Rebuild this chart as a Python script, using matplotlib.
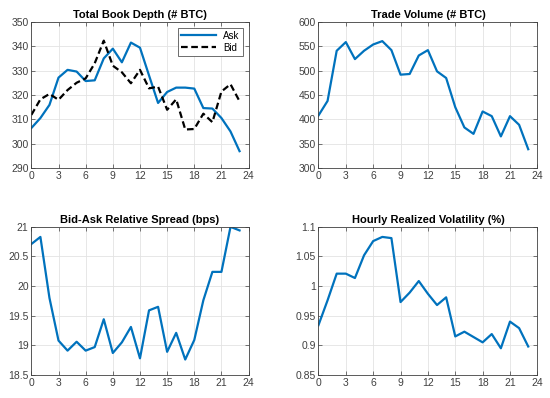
import matplotlib.pyplot as plt

hours = list(range(24))

ask_depth = [306.4, 310.5, 315.9, 327.1, 330.3, 329.6, 325.7, 326.0, 335.0, 339.0,
             333.4, 341.5, 339.4, 328.0, 316.7, 321.2, 323.0, 323.0, 322.6, 314.6,
             314.4, 310.5, 305.0, 296.9]
bid_depth = [311.8, 318.2, 320.4, 318.0, 322.0, 325.0, 326.8, 333.0, 342.3, 332.0,
             329.3, 324.8, 330.3, 322.7, 323.4, 313.9, 318.2, 305.8, 306.0, 312.3,
             308.8, 321.4, 324.4, 317.4]
volume = [407.7, 437.7, 540.7, 558.5, 523.6, 540.7, 553.6, 560.5, 542.0, 491.6,
          493.0, 531.0, 542.0, 498.4, 484.8, 424.8, 383.2, 370.0, 416.0, 406.4,
          364.8, 406.4, 388.6, 338.5]
spread = [20.71, 20.83, 19.80, 19.08, 18.91, 19.06, 18.91, 18.97, 19.44, 18.87,
          19.05, 19.31, 18.78, 19.59, 19.65, 18.89, 19.21, 18.76, 19.09, 19.76,
          20.24, 20.24, 21.00, 20.94]
volatility = [0.934, 0.976, 1.021, 1.021, 1.0136, 1.052, 1.076, 1.083, 1.081, 0.973,
              0.989, 1.0085, 0.987, 0.968, 0.981, 0.915, 0.923, 0.914, 0.905, 0.919,
              0.895, 0.940, 0.929, 0.898]

titles = ['Total Book Depth (# BTC)', 'Trade Volume (# BTC)',
          'Bid-Ask Relative Spread (bps)', 'Hourly Realized Volatility (%)']

plt.rcParams['font.family'] = ['Liberation Sans', 'DejaVu Sans']
blue = '#0072BD'

fig = plt.figure(figsize=(5.5, 3.98), dpi=100)
ax1 = fig.add_axes([0.057, 0.578, 0.395, 0.367])
ax2 = fig.add_axes([0.579, 0.578, 0.398, 0.367])
ax3 = fig.add_axes([0.057, 0.058, 0.395, 0.372])
ax4 = fig.add_axes([0.579, 0.058, 0.398, 0.372])

ax1.plot(hours, ask_depth, color=blue, lw=1.6, label='Ask')
ax1.plot(hours, bid_depth, color='black', lw=1.6, ls=(0, (3, 1.6)), label='Bid')
ax1.set_ylim(290, 350)
ax1.set_yticks(range(290, 351, 10))
leg = ax1.legend(loc='upper right', fontsize=7, fancybox=False, framealpha=1,
                 borderpad=0.3, handlelength=3.6, labelspacing=0.2,
                 borderaxespad=0.6)
leg.get_frame().set_edgecolor('#555555')
leg.get_frame().set_linewidth(0.6)

ax2.plot(hours, volume, color=blue, lw=1.6)
ax2.set_ylim(300, 600)
ax2.set_yticks(range(300, 601, 50))

ax3.plot(hours, spread, color=blue, lw=1.6)
ax3.set_ylim(18.5, 21)
ax3.set_yticks([18.5, 19, 19.5, 20, 20.5, 21])
ax3.set_yticklabels(['18.5', '19', '19.5', '20', '20.5', '21'])

ax4.plot(hours, volatility, color=blue, lw=1.6)
ax4.set_ylim(0.85, 1.1)
ax4.set_yticks([0.85, 0.9, 0.95, 1.0, 1.05, 1.1])
ax4.set_yticklabels(['0.85', '0.9', '0.95', '1', '1.05', '1.1'])

for ax, t in zip([ax1, ax2, ax3, ax4], titles):
    ax.set_xlim(0, 24)
    ax.set_xticks(range(0, 25, 3))
    ax.set_title(t, fontsize=8, fontweight='bold', pad=3)
    ax.grid(True, color='#e3e3e3', lw=0.6)
    ax.set_axisbelow(True)
    ax.tick_params(direction='in', labelsize=7.5, colors='#404040', length=3,
                   width=0.5, top=True, right=True, pad=2)
    for s in ax.spines.values():
        s.set_color('#404040')
        s.set_linewidth(0.6)

fig.savefig('out.png', dpi=100)
